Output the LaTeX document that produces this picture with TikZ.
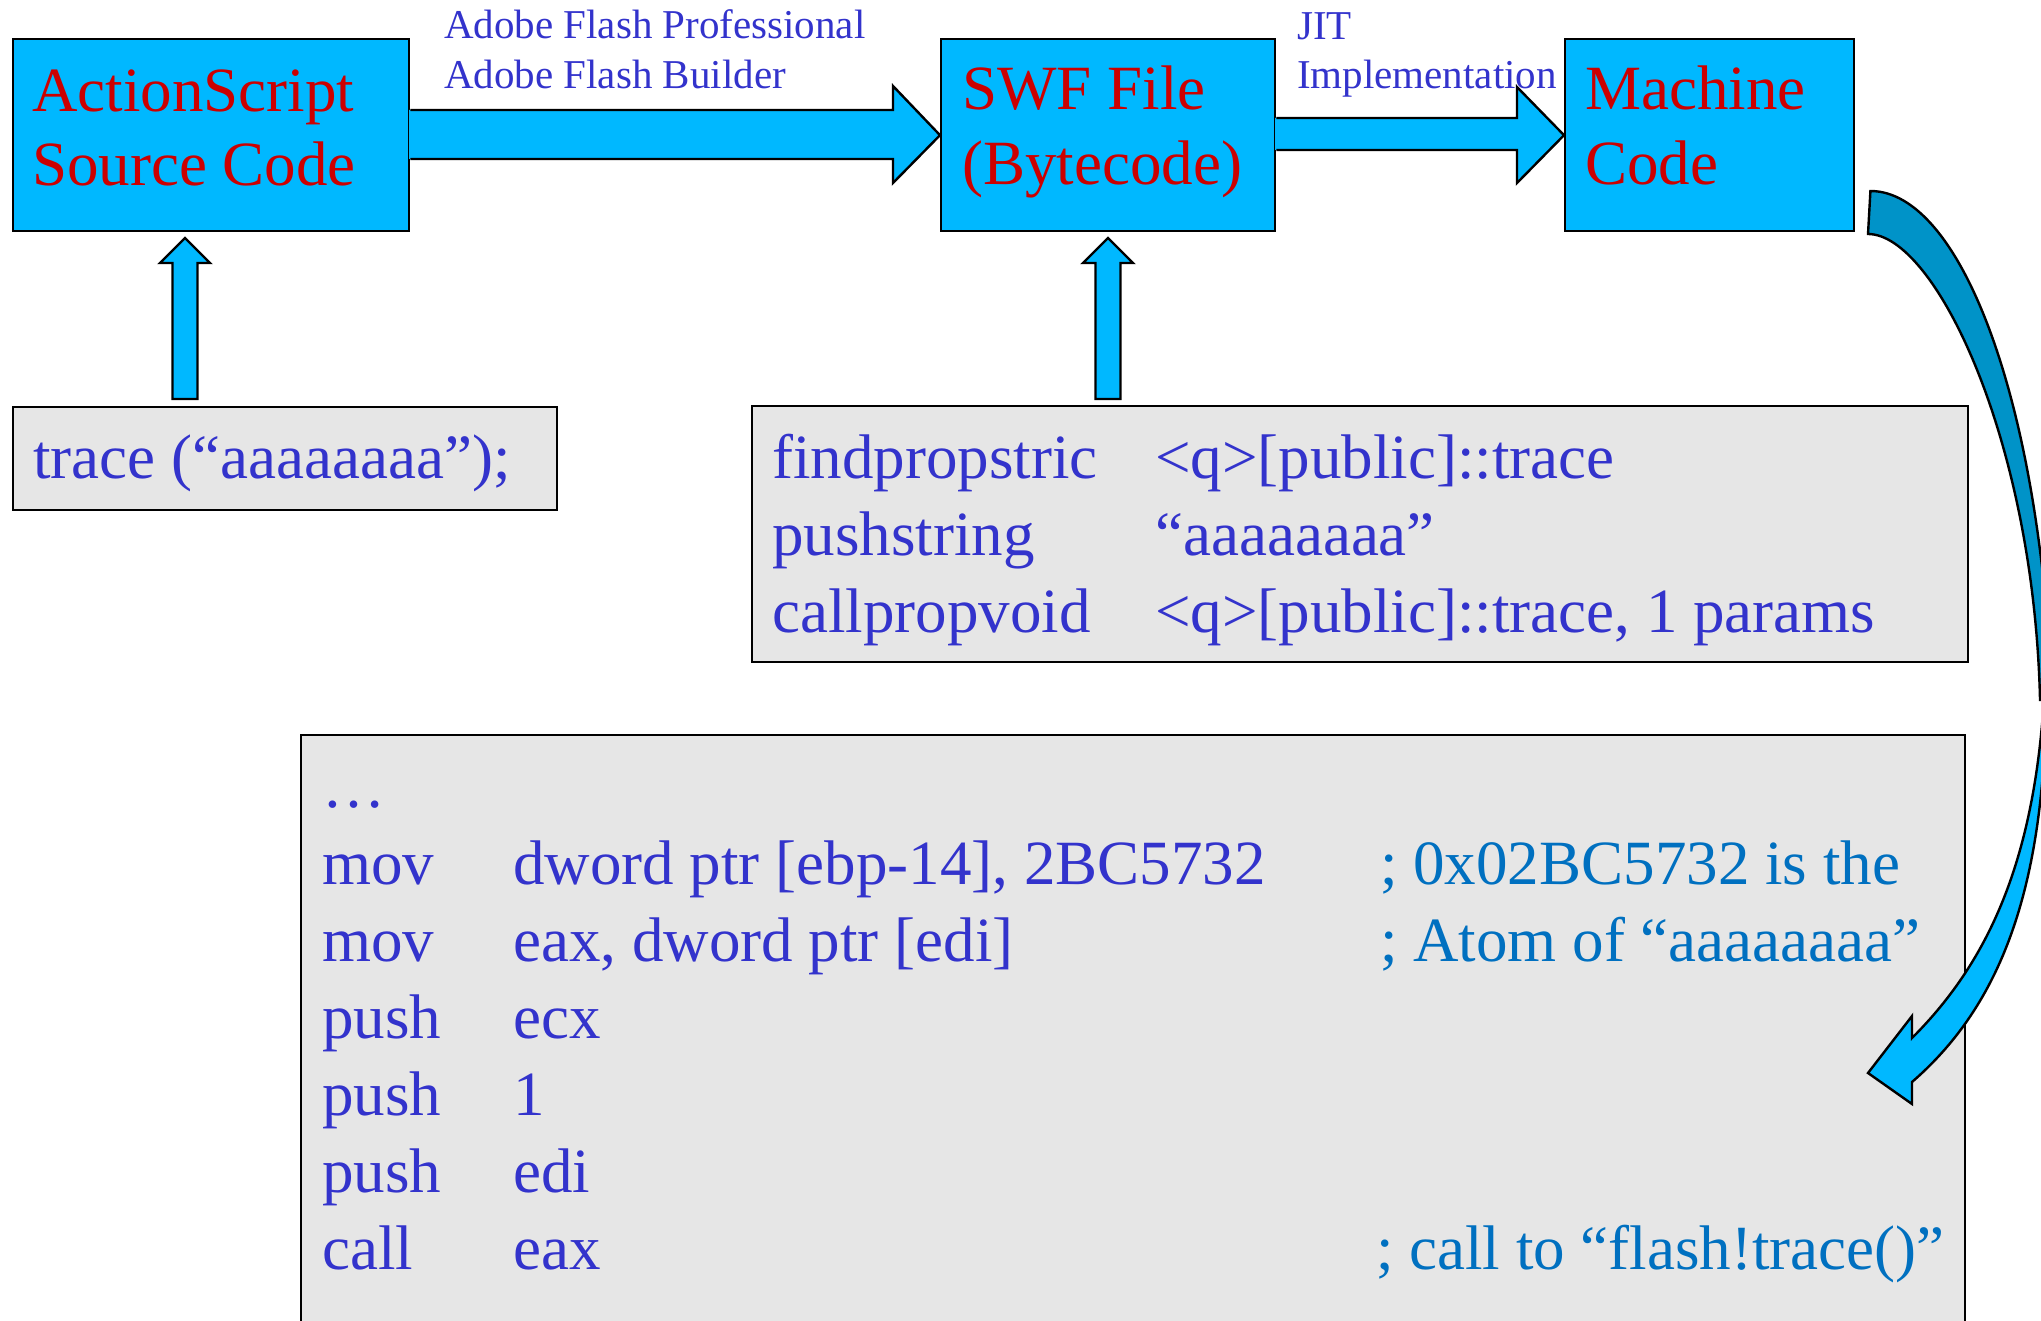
\documentclass[tikz,border=0pt]{standalone}
\usepackage{fontspec}
\setmainfont{Liberation Serif}
\usetikzlibrary{calc}
\definecolor{boxcyan}{RGB}{0,184,255}
\definecolor{backcyan}{RGB}{0,147,200}
\definecolor{titlered}{RGB}{204,0,0}
\definecolor{codeblue}{RGB}{51,51,204}
\definecolor{notecol}{RGB}{0,112,192}
\definecolor{panelgray}{RGB}{230,230,230}

\begin{document}
\begin{tikzpicture}[x=1pt,y=-1pt,
  stage/.style={draw=black, line width=2.4pt, fill=boxcyan, inner sep=0pt, anchor=north west},
  panel/.style={draw=black, line width=2.4pt, fill=panelgray, inner sep=0pt, anchor=north west},
  big/.style={inner sep=0pt, anchor=base west, font=\fontsize{63}{74}\selectfont},
  title/.style={big, text=titlered},
  code/.style={big, text=codeblue},
  note/.style={big, text=notecol},
  tool/.style={inner sep=0pt, anchor=base west, text=codeblue, font=\fontsize{41}{50}\selectfont},
  arrowfill/.style={fill=boxcyan},
  arrowline/.style={draw=black, line width=2.4pt, line join=miter},
]
\useasboundingbox (0,0) rectangle (2041,1321);
\clip (0,0) rectangle (2041,1321);

% stage boxes
\node[stage, minimum width=396pt, minimum height=192pt] (A) at (12,38) {};
\node[stage, minimum width=334pt, minimum height=192pt] (B) at (940,38) {};
\node[stage, minimum width=289pt, minimum height=192pt] (C) at (1564,38) {};

% listing panels
\node[panel, minimum width=544pt, minimum height=103pt] (D) at (12,406) {};
\node[panel, minimum width=1216pt, minimum height=256pt] (E) at (751,405) {};
\node[panel, minimum width=1664pt, minimum height=650pt] (F) at (300,734) {};

% block arrow: source -> swf
\fill[arrowfill] (A.east |- 0,110) ++(-1.2,0) -- (893,110) -- (893,86) -- (B.west) -- (893,183) -- (893,159) -- ($(A.east |- 0,159)+(-1.2,0)$) -- cycle;
\draw[arrowline] (A.east |- 0,110) -- (893,110) -- (893,86) -- (B.west) -- (893,183) -- (893,159) -- (A.east |- 0,159);

% block arrow: swf -> machine code
\fill[arrowfill] (B.east |- 0,118) ++(-1.2,0) -- (1517,118) -- (1517,87) -- (C.west) -- (1517,183) -- (1517,150) -- ($(B.east |- 0,150)+(-1.2,0)$) -- cycle;
\draw[arrowline] (B.east |- 0,118) -- (1517,118) -- (1517,87) -- (C.west) -- (1517,183) -- (1517,150) -- (B.east |- 0,150);

% upward arrows from the listings
\draw[arrowline, arrowfill] (172.5,399) -- (172.5,263) -- (160,263) -- (185,238) -- (210,263) -- (197.5,263) -- (197.5,399) -- cycle;
\draw[arrowline, arrowfill] (1095.5,399) -- (1095.5,263) -- (1083,263) -- (1108,238) -- (1133,263) -- (1120.5,263) -- (1120.5,399) -- cycle;

% stage titles
\node[title] (a1) at (32,112) {ActionScript};
\node[title] (a2) at (32,186) {Source Code};
\node[title] (b1) at (962,110) {SWF File};
\node[title] (b2) at (962,185) {(Bytecode)};
\node[title] (c1) at (1585,110) {Machine};
\node[title] (c2) at (1585,185) {Code};

% tool labels
\node[tool] (t1) at (444,39) {Adobe Flash Professional};
\node[tool] (t2) at (444,89) {Adobe Flash Builder};
\node[tool] (t3) at (1297,40) {JIT};
\node[tool] (t4) at (1297,89) {Implementation};

% source line
\node[code] (d1) at (33,478) {trace (“aaaaaaaa”);};

% bytecode listing
\node[code] (e1) at (772,478) {findpropstric};
\node[code] (e2) at (1155,478) {<q>[public]::trace};
\node[code] (e3) at (772,555) {pushstring};
\node[code] (e4) at (1155,555) {“aaaaaaaa”};
\node[code] (e5) at (772,632) {callpropvoid};
\node[code] (e6) at (1155,632) {<q>[public]::trace, 1 params};

% machine code listing
\node[code] (f0) at (322,807) {…};
\node[code] (f1) at (322,884) {mov};
\node[code] (g1) at (513,884) {dword ptr [ebp-14], 2BC5732};
\node[note] (h1) at (1380,884) {; 0x02BC5732 is the};
\node[code] (f2) at (322,961) {mov};
\node[code] (g2) at (513,961) {eax, dword ptr [edi]};
\node[note] (h2) at (1380,961) {; Atom of “aaaaaaaa”};
\node[code] (f3) at (322,1038) {push};
\node[code] (g3) at (513,1038) {ecx};
\node[code] (f4) at (322,1115) {push};
\node[code] (g4) at (513,1115) {1};
\node[code] (f5) at (322,1192) {push};
\node[code] (g5) at (513,1192) {edi};
\node[code] (f6) at (322,1269) {call};
\node[code] (g6) at (513,1269) {eax};
\node[note] (h6) at (1376,1269) {; call to “flash!trace()”};

% curved arrow: machine code -> listing (back band, then front band with head)
\draw[arrowline, fill=backcyan] (C.east |- 0,191) ++(15,0)
  .. controls (1960,191) and (2041,400) .. (2052,700)
  -- (2040,700)
  .. controls (2034,440) and (1935,234) .. (1868,234) -- cycle;
\draw[arrowline, arrowfill] (2046,640)
  .. controls (2044,850) and (1990,960) .. (1912,1038)
  -- (1912,1016) -- (1868,1073) -- (1912,1104) -- (1912,1082)
  .. controls (1995,1010) and (2044,900) .. (2046,700) -- cycle;
\end{tikzpicture}
\end{document}
